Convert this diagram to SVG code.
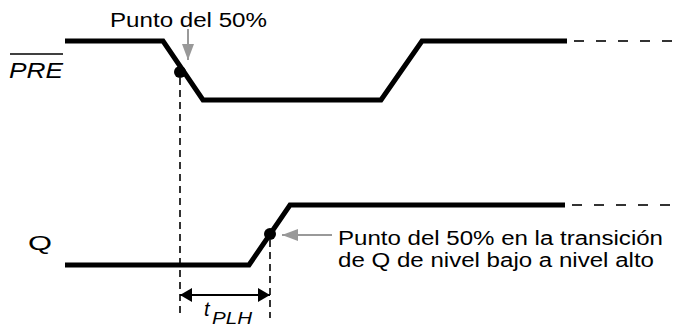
<svg xmlns="http://www.w3.org/2000/svg" width="676" height="329" viewBox="0 0 676 329">
<style>
.sig{fill:none;stroke:#000;stroke-width:5;stroke-linejoin:miter}
.cont{fill:none;stroke:#333;stroke-width:2;stroke-dasharray:10 12}
.vd{fill:none;stroke:#000;stroke-width:1.6;stroke-dasharray:7 5}
.g{stroke:#999;stroke-width:2;fill:none}
.t{font-family:"Liberation Sans",Arial,sans-serif;font-size:20px;fill:#000}
.it{font-family:"Liberation Sans",Arial,sans-serif;font-style:italic;fill:#000}
</style>
<defs>
<marker id="ga" viewBox="0 0 16 12" refX="16" refY="6" markerWidth="16" markerHeight="12" markerUnits="userSpaceOnUse" orient="auto"><path d="M0,0 L16,6 L0,12 Z" fill="#999"/></marker>
<marker id="ba" viewBox="0 0 12 14" refX="12" refY="7" markerWidth="12" markerHeight="14" markerUnits="userSpaceOnUse" orient="auto-start-reverse"><path d="M0,0 L12,7 L0,14 Z" fill="#000"/></marker>
</defs>
<rect width="676" height="329" fill="#fff"/>
<g id="pre">
<path class="sig" d="M65,41 H163 L203,100 H381 L422,41 H567"/>
<path class="cont" d="M574,41 H676"/>
<circle cx="180" cy="72" r="6" fill="#000"/>
<text class="it" x="9" y="78" font-size="22" textLength="54" lengthAdjust="spacingAndGlyphs">PRE</text>
<line x1="10" y1="54" x2="63" y2="54" stroke="#000" stroke-width="1.5"/>
</g>
<g id="q">
<path class="sig" d="M65,265 H249 L290,205 H565"/>
<path class="cont" d="M572,205 H676"/>
<circle cx="270" cy="234" r="6" fill="#000"/>
<text class="t" x="28" y="250" font-size="27" textLength="24" lengthAdjust="spacingAndGlyphs">Q</text>
</g>
<g id="label-top">
<text class="t" x="110" y="27" textLength="157" lengthAdjust="spacingAndGlyphs">Punto del 50%</text>
</g>
<g id="label-right">
<text class="t" x="338" y="245" textLength="325" lengthAdjust="spacingAndGlyphs">Punto del 50% en la transición</text>
<text class="t" x="338" y="267" textLength="316" lengthAdjust="spacingAndGlyphs">de Q de nivel bajo a nivel alto</text>
</g>
<g id="tplh">
<text class="it" x="204" y="316" font-size="20">t</text>
<text class="it" x="212" y="324" font-size="16" textLength="40" lengthAdjust="spacingAndGlyphs">PLH</text>
</g>
<g id="connectors">
<path class="vd" d="M180,78 V318"/>
<path class="vd" d="M270,240 V318"/>
<line x1="188" y1="29" x2="188" y2="60" class="g" marker-end="url(#ga)"/>
<line x1="332" y1="235" x2="282" y2="235" class="g" marker-end="url(#ga)"/>
<line x1="180" y1="295" x2="270" y2="295" stroke="#000" stroke-width="2" marker-start="url(#ba)" marker-end="url(#ba)"/>
</g>
</svg>
